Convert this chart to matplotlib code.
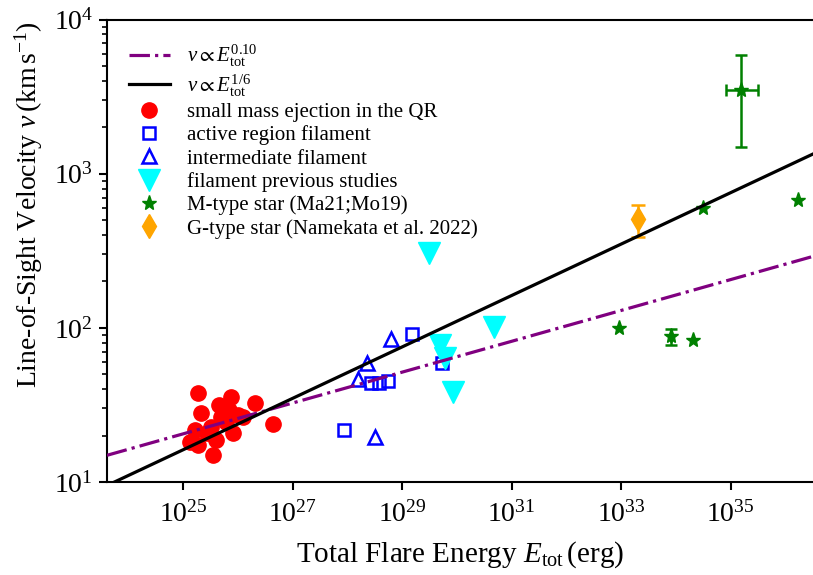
import numpy as np
import matplotlib
matplotlib.use("Agg")
import matplotlib.pyplot as plt
from matplotlib.ticker import FixedLocator, NullLocator, LogLocator, LogFormatterSciNotation

plt.rcParams["font.family"] = "serif"
plt.rcParams["font.serif"] = ["Liberation Serif", "DejaVu Serif"]
plt.rcParams["mathtext.fontset"] = "custom"
plt.rcParams["mathtext.rm"] = "Liberation Serif"
plt.rcParams["mathtext.it"] = "Liberation Serif:italic"
plt.rcParams["mathtext.bf"] = "Liberation Serif:bold"
plt.rcParams["mathtext.fallback"] = "stix"
plt.rcParams["axes.linewidth"] = 1.5

# small mass ejections in the quiet region
qr_E = [1.86e25, 7.52e25, 4.54e25, 2.06e26, 2.13e25, 1.24e26, 5.37e25, 4.39e26,
        8.17e25, 3.24e25, 1.66e25, 1.34e25, 1.88e25, 4.0e25, 3.52e25, 4.93e25,
        2.74e25, 1.0e26, 6.92e25, 5.89e25]
qr_v = [37.8, 35.6, 31.6, 32.6, 28.1, 26.4, 28.0, 23.8,
        20.8, 22.8, 21.8, 18.2, 17.4, 18.7, 15.0, 26.4,
        20.8, 27.2, 29.5, 24.5]

# active region filaments
ar_E = [1.51e29, 2.74e28, 3.83e28, 5.6e28, 8.7e27, 5.25e29]
ar_v = [91.4, 43.6, 44.2, 45.3, 21.8, 59.0]

# intermediate filaments
im_E = [6.27e28, 2.28e28, 1.54e28, 3.2e28]
im_v = [84.5, 59.6, 46.4, 19.7]

# filaments from previous studies
prev_E = [3.05e29, 4.93e29, 5.92e29, 8.4e29, 4.72e30]
prev_v = [305, 77.6, 63.7, 38.6, 102]

# M-type stars (Ma21; Mo19)
m_E = [9.3e32, 8.24e33, 2.05e34, 3.12e34, 1.71e36, 1.57e35]
m_v = [99.5, 87.9, 83.6, 597, 676, 3500]
m_err_E = [8.24e33, 1.57e35]
m_err_v = [87.9, 3500]
m_err_v_lo = [10, 2000]
m_err_v_hi = [10, 2430]
m_err_E_lo = [0, 7.3e34]
m_err_E_hi = [0, 1.6e35]

# G-type star (Namekata et al. 2022)
g_E = [2.02e33]
g_v = [506]
g_err_v = [120]

# power-law relations v = A (E / 1e30)^k
fit_slow = (65.0, 0.10)
fit_fast = (110.5, 1.0 / 6.0)

xlim = (10**23.604, 10**36.507)
ylim = (10, 1e4)

fig = plt.figure(figsize=(8.13, 5.75), dpi=100)
ax = fig.add_axes([0.1316, 0.1617, 0.8684, 0.8043])

E_line = np.logspace(np.log10(xlim[0]), np.log10(xlim[1]), 200)
ax.plot(E_line, fit_slow[0] * (E_line / 1e30) ** fit_slow[1], color="purple",
        ls="-.", lw=2.3, zorder=3, label=r"$v \propto E_{\rm tot}^{0.10}$")
ax.plot(E_line, fit_fast[0] * (E_line / 1e30) ** fit_fast[1], color="black",
        ls="-", lw=2.3, zorder=3, label=r"$v \propto E_{\rm tot}^{1/6}$")

ax.plot(qr_E, qr_v, "o", color="red", ms=11, ls="none",
        label="small mass ejection in the QR")
ax.plot(ar_E, ar_v, "s", mfc="none", mec="blue", mew=1.8, ms=8.5, ls="none",
        label="active region filament")
ax.plot(im_E, im_v, "^", mfc="none", mec="blue", mew=1.8, ms=9.5, ls="none",
        label="intermediate filament")
ax.plot(prev_E, prev_v, "v", color="cyan", ms=16, ls="none",
        label="filament previous studies")
ax.plot(m_E, m_v, "*", color="green", ms=11, ls="none",
        label="M-type star (Ma21;Mo19)")
ax.errorbar(m_err_E, m_err_v, yerr=[m_err_v_lo, m_err_v_hi],
            xerr=[m_err_E_lo, m_err_E_hi], fmt="none", ecolor="green",
            elinewidth=1.8, capsize=4.5, capthick=1.8)
ax.errorbar(g_E, g_v, yerr=g_err_v, fmt="none", ecolor="orange",
            elinewidth=1.8, capsize=5, capthick=1.8)
ax.plot(g_E, g_v, "d", color="orange", ms=12, ls="none",
        label="G-type star (Namekata et al. 2022)")

ax.set_xscale("log")
ax.set_yscale("log")
ax.set_xlim(*xlim)
ax.set_ylim(*ylim)

ax.xaxis.set_major_locator(FixedLocator([1e25, 1e27, 1e29, 1e31, 1e33, 1e35]))
ax.xaxis.set_major_formatter(LogFormatterSciNotation())
ax.xaxis.set_minor_locator(NullLocator())
ax.yaxis.set_major_locator(LogLocator(base=10))
ax.yaxis.set_minor_locator(LogLocator(base=10, subs=np.arange(2, 10)))

ax.tick_params(which="major", direction="out", length=6, width=1.5,
               labelsize=20, pad=4)
ax.tick_params(axis="x", which="major", pad=8)
ax.tick_params(which="minor", direction="out", length=3.5, width=1.2)
ax.spines["right"].set_visible(False)

ax.set_xlabel(r"Total Flare Energy $E_{\rm tot}\,$(erg)", fontsize=21, labelpad=8)
ax.set_ylabel(r"Line-of-Sight Velocity $v\,(\mathrm{km\,s^{-1}})$", fontsize=20)
ax.yaxis.set_label_coords(-0.088, 0.6)

h, l = ax.get_legend_handles_labels()
ax.legend(h, l, loc="upper left", bbox_to_anchor=(0.004, 0.99), frameon=False,
          fontsize=15, labelspacing=0.17, numpoints=1)

fig.savefig("out.png", dpi=100)
